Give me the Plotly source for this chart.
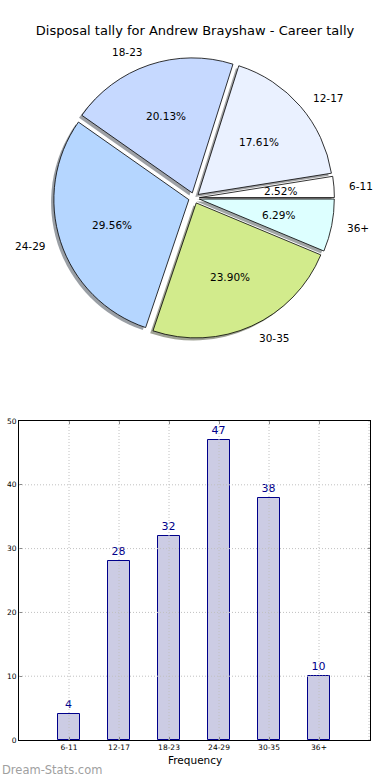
import math
import plotly.graph_objects as go

# ---- data ----
categories = ["6-11", "12-17", "18-23", "24-29", "30-35", "36+"]
counts = [4, 28, 32, 47, 38, 10]
pie_colors = ["#ffffff", "#eaf1ff", "#c6d9ff", "#b5d6ff", "#d2eb8c", "#ddffff"]
title_text = "Disposal tally for Andrew Brayshaw - Career tally"

W, H = 390, 780
FONT = "DejaVu Sans"

# pie geometry (pixels)
cx, cy = 194, 198
R = 135
PULL = 0.04
half = R * (1 + PULL)
total = sum(counts)
# plotly counterclockwise: first slice ends at the rotation angle (clockwise from 12 o'clock)
ROT = 90 - 360 * counts[0] / total


def px2paper(x, y):
    return x / W, 1 - y / H


dom_x = [(cx - half) / W, (cx + half) / W]
dom_y = [1 - (cy + half) / H, 1 - (cy - half) / H]
sdx, sdy = -2.8 / W, -2.5 / H


def shade(hexc):
    r = int(hexc[1:3], 16); g = int(hexc[3:5], 16); b = int(hexc[5:7], 16)
    return "rgba(%d,%d,%d,0.5)" % (r * 0.3, g * 0.3, b * 0.3)


fig = go.Figure()

# shadow
fig.add_trace(go.Pie(
    values=counts, labels=categories, sort=False, direction="counterclockwise",
    rotation=ROT, pull=[PULL] * len(counts),
    marker=dict(colors=[shade(c) for c in pie_colors], line=dict(width=0)),
    textinfo="none", hoverinfo="skip", showlegend=False,
    domain=dict(x=[dom_x[0] + sdx, dom_x[1] + sdx], y=[dom_y[0] + sdy, dom_y[1] + sdy]),
))
# main pie
fig.add_trace(go.Pie(
    values=counts, labels=categories, sort=False, direction="counterclockwise",
    rotation=ROT, pull=[PULL] * len(counts),
    marker=dict(colors=pie_colors, line=dict(color="black", width=0.8)),
    textinfo="none", showlegend=False,
    domain=dict(x=dom_x, y=dom_y),
))

annotations = []
cum = 0
for cat, v in zip(categories, counts):
    frac = v / total
    mid = (cum + frac / 2) * 2 * math.pi
    cum += frac
    c, s = math.cos(mid), math.sin(mid)
    # label
    d = 1.1 * R + PULL * R
    lx, ly = px2paper(cx + d * c, cy - d * s)
    annotations.append(dict(x=lx, y=ly, xref="paper", yref="paper", text=cat,
                            showarrow=False, xanchor="left" if c > 0 else "right",
                            yanchor="middle", font=dict(family=FONT, size=10.5, color="black")))
    d = 0.6 * R + PULL * R
    tx, ty = px2paper(cx + d * c, cy - d * s)
    annotations.append(dict(x=tx, y=ty, xref="paper", yref="paper",
                            text="%.2f%%" % (frac * 100), showarrow=False,
                            xanchor="center", yanchor="middle",
                            font=dict(family=FONT, size=10.5, color="black")))

# ---- bar chart ----
xpos = list(range(len(categories)))
fig.add_trace(go.Bar(
    x=xpos, y=counts, width=0.45,
    marker=dict(color="#cccce4", line=dict(color="#00008b", width=1)),
    text=[str(v) for v in counts], textposition="outside",
    textfont=dict(family=FONT, size=11, color="#00008b"),
    cliponaxis=False, showlegend=False, xaxis="x", yaxis="y",
))

GRID = dict(color="#c0c0c0", width=1, dash="1px,2px")
shapes = []
for xv in list(range(len(categories) + 1)):
    shapes.append(dict(type="line", xref="x", yref="y domain", x0=xv, x1=xv, y0=0, y1=1,
                       line=GRID, layer="above"))
for yv in [10, 20, 30, 40]:
    shapes.append(dict(type="line", xref="x domain", yref="y", x0=0, x1=1, y0=yv, y1=yv,
                       line=GRID, layer="above"))

annotations.append(dict(x=(19 + 370) / 2 / W, y=1 - 760 / H, xref="paper", yref="paper",
                        text="Frequency", showarrow=False, xanchor="center", yanchor="middle",
                        font=dict(family=FONT, size=10.5, color="black")))
annotations.append(dict(x=0, y=1 - 770 / H, xref="paper", yref="paper",
                        text="Dream-Stats.com", showarrow=False, xanchor="left", yanchor="middle",
                        font=dict(family=FONT, size=11.5, color="#a0a0a0")))

fig.update_layout(
    width=W, height=H, margin=dict(l=0, r=0, t=0, b=0, autoexpand=False),
    paper_bgcolor="white", plot_bgcolor="white",
    title=dict(text=title_text, x=0.5, y=1 - 30 / H, xanchor="center", yanchor="middle",
               font=dict(family=FONT, size=13, color="black")),
    xaxis=dict(domain=[19 / W, 370 / W], range=[-1, 6.02], tickmode="array",
               tickvals=xpos, ticktext=categories, showgrid=False, zeroline=False,
               showline=True, linecolor="black", linewidth=1, mirror="ticks",
               ticks="inside", ticklen=3, tickcolor="#888", automargin=False,
               tickfont=dict(family=FONT, size=7.5, color="black"), fixedrange=True),
    yaxis=dict(domain=[40 / H, 359 / H], range=[0, 50], tickvals=[0, 10, 20, 30, 40, 50],
               showgrid=False, zeroline=False, showline=True, linecolor="black", linewidth=1,
               mirror="ticks", ticks="inside", ticklen=3, tickcolor="#888", automargin=False,
               tickfont=dict(family=FONT, size=7.5, color="black"), fixedrange=True),
    annotations=annotations, shapes=shapes, bargap=0,
)

fig.write_html("out.html", config={"displayModeBar": False},
               post_script="document.body.style.margin='0';document.body.style.overflow='hidden';")
